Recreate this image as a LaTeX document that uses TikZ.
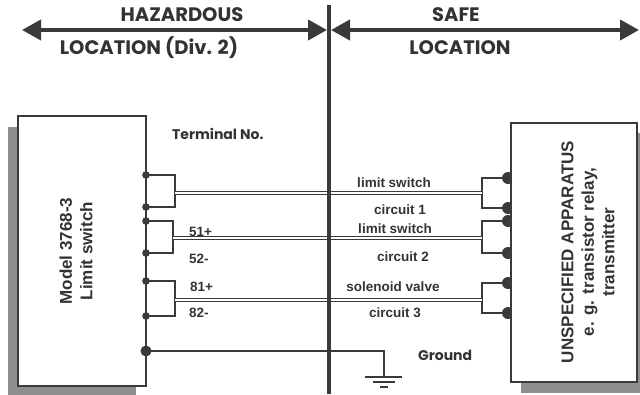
\documentclass[tikz,border=0pt]{standalone}
\usepackage{fontspec}
\setmainfont{Liberation Sans}
\newfontfamily\geo{Poppins}
\usetikzlibrary{arrows.meta}
\definecolor{ink}{HTML}{3A3A3A}
\definecolor{txt}{HTML}{333333}
\definecolor{shade}{HTML}{8E8E8E}
\tikzset{
  wire/.style={draw=ink, line width=1.3pt},
  cable/.style={draw=ink, line width=1.1pt, double=white, double distance=2.4pt},
  boxline/.style={draw=ink, line width=1.8pt, fill=white},
  shadowbox/.style={fill=shade, draw=none},
  dot/.style={circle, fill=ink, inner sep=0pt, minimum size=7.6pt},
  bigdot/.style={circle, fill=ink, inner sep=0pt, minimum size=11pt},
  rdot/.style={circle, fill=ink, inner sep=0pt, minimum size=12pt},
  head/.style={font=\geo\bfseries\fontsize{19.5}{19.5}\selectfont, text=txt, inner sep=0pt},
  lbl/.style={font=\bfseries\fontsize{13.5}{13.5}\selectfont, text=txt, inner sep=0pt},
  gl/.style={font=\geo\bfseries\fontsize{14}{14}\selectfont, text=txt, inner sep=0pt},
  boxtxt/.style={font=\bfseries\fontsize{17}{20.5}\selectfont, text=txt, align=center, rotate=90, inner sep=0pt},
  zone/.style={draw=ink, line width=4pt, {Triangle[length=19pt,width=20pt]}-{Triangle[length=19pt,width=20pt]}},
}
\begin{document}
\begin{tikzpicture}[x=1pt,y=-1pt]
\useasboundingbox (0,0) rectangle (640,394);
% shadows
\fill[shadowbox] (8,127) rectangle (136,395);
\fill[shadowbox] (521,133) rectangle (647,393);
% left box
\draw[boxline] (18,116) rectangle (146,386);
\node[boxtxt] (devtxt) at (76,251) {Model 3768-3\\Limit switch};
% right dots (partly under box)
\foreach \n/\yy in {r1/178,r2/208,r3/221,r4/253,r5/283,r6/313}{
  \node[rdot] (\n) at (508,\yy) {};
}
% terminals
\foreach \n/\yy in {t1/175,t2/207,t3/221,t4/253,t5/281,t6/316}{
  \coordinate (\n) at (146,\yy);
}
\coordinate (tg) at (146,351);
% left brackets
\coordinate (la) at (175,175); \coordinate (lb) at (175,207);
\coordinate (lc) at (173,221); \coordinate (ld) at (173,253);
\coordinate (le) at (175,281); \coordinate (lf) at (175,316);
\draw[wire] (t1) -- (la) -- (lb) -- (t2);
\draw[wire] (t3) -- (lc) -- (ld) -- (t4);
\draw[wire] (t5) -- (le) -- (lf) -- (t6);
% right brackets
\coordinate (ra) at (482,178); \coordinate (rb) at (482,208);
\coordinate (rc) at (482,221); \coordinate (rd) at (482,253);
\coordinate (re) at (482,283); \coordinate (rf) at (482,313);
\draw[wire] (r1.center) -- (ra) -- (rb) -- (r2.center);
\draw[wire] (r3.center) -- (rc) -- (rd) -- (r4.center);
\draw[wire] (r5.center) -- (re) -- (rf) -- (r6.center);
% right box over dots and wires
\draw[boxline] (511,123) rectangle (637,382);
\node[boxtxt] (apptxt) at (588,252) {UNSPECIFIED APPARATUS\\e. g. transistor relay,\\transmitter};
% cables
\coordinate (c1l) at (175,193); \coordinate (c1r) at (482,193);
\coordinate (c2l) at (173,238); \coordinate (c2r) at (482,238);
\coordinate (c3l) at (175,300); \coordinate (c3r) at (482,300);
\draw[cable] (c1l) -- (c1r);
\draw[cable] (c2l) -- (c2r);
\draw[cable] (c3l) -- (c3r);
% dots on left terminals
\foreach \n in {t1,t2,t3,t4,t5,t6}{ \node[dot] at (\n) {}; }
% ground
\coordinate (gc) at (384,351);
\coordinate (gb) at (384,377);
\draw[wire] (tg) -- (gc) -- (gb);
\node[bigdot] (gd) at (tg) {};
\draw[wire] (365,377) -- (402,377);
\draw[wire] (373,382) -- (395,382);
\draw[wire] (380,387) -- (388,387);
% separator
\coordinate (stop) at (329,5);
\coordinate (sbot) at (329,394);
\draw[draw=ink, line width=4.5pt] (stop) -- (sbot);
% zone arrows
\coordinate (hl) at (22,30); \coordinate (hr) at (327,30);
\coordinate (sl) at (331,30); \coordinate (sr) at (639,30);
\draw[zone] (hl) -- (hr);
\draw[zone] (sl) -- (sr);
\node[head] (hz) at (182,15) {HAZARDOUS};
\node[head] (sf) at (456,15) {SAFE};
\node[head] (hloc) at (149,48) {LOCATION (Div. 2)};
\node[head] (sloc) at (460,48) {LOCATION};
% labels
\node[gl, anchor=west] (term) at (172,134) {Terminal No.};
\node[gl, anchor=west] (gnd) at (418,355) {Ground};
\node[lbl, anchor=west] at (189,232) {51+};
\node[lbl, anchor=west] at (189,259) {52-};
\node[lbl, anchor=west] at (190,287) {81+};
\node[lbl, anchor=west] at (189,313) {82-};
\node[lbl] at (394,183) {limit switch};
\node[lbl] at (400,210) {circuit 1};
\node[lbl] at (395,229) {limit switch};
\node[lbl] at (403,257) {circuit 2};
\node[lbl] at (393,287) {solenoid valve};
\node[lbl] at (395,313) {circuit 3};
\end{tikzpicture}
\end{document}
